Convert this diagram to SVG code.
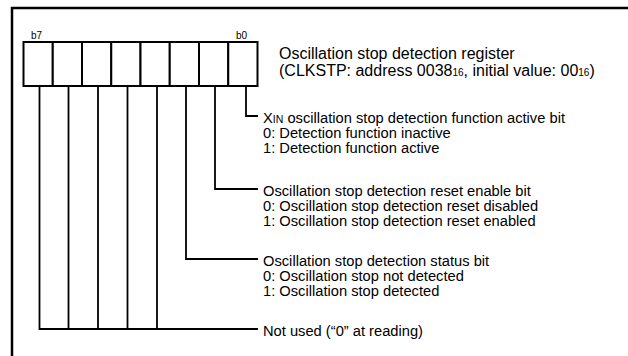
<svg xmlns="http://www.w3.org/2000/svg" width="628" height="356" viewBox="0 0 628 356">
<style>
.t{font-family:"Liberation Sans",Arial,sans-serif;font-size:14.7px;fill:#000}
.h{font-family:"Liberation Sans",Arial,sans-serif;font-size:16px;fill:#000}
.b{font-family:"Liberation Sans",Arial,sans-serif;font-size:10px;fill:#000}
.c{fill:#fff;stroke:#000;stroke-width:2}
.w{fill:none;stroke:#000;stroke-width:1.8}
</style>
<rect x="12" y="8" width="640" height="380" fill="none" stroke="#000" stroke-width="2.5"/>
<g id="register">
<text class="b" x="31" y="39">b7</text>
<text class="b" x="236" y="39">b0</text>
<rect class="c" x="23.5" y="42" width="29.25" height="44"/>
<rect class="c" x="52.75" y="42" width="29.25" height="44"/>
<rect class="c" x="82" y="42" width="29.25" height="44"/>
<rect class="c" x="111.25" y="42" width="29.25" height="44"/>
<rect class="c" x="140.5" y="42" width="29.25" height="44"/>
<rect class="c" x="169.75" y="42" width="29.25" height="44"/>
<rect class="c" x="199" y="42" width="29.25" height="44"/>
<rect class="c" x="228.25" y="42" width="29.25" height="44"/>
</g>
<g id="title">
<text class="h" x="279" y="59">Oscillation stop detection register</text>
<text class="h" x="279" y="76">(CLKSTP: address 0038<tspan font-size="10">16</tspan>, initial value: 00<tspan font-size="10">16</tspan>)</text>
</g>
<g id="connectors">
<polyline class="w" points="246,86 246,116 258,116"/>
<polyline class="w" points="215,86 215,189 258,189"/>
<polyline class="w" points="186,86 186,259 258,259"/>
<line class="w" x1="157" y1="86" x2="157" y2="329"/>
<line class="w" x1="127.5" y1="86" x2="127.5" y2="329"/>
<line class="w" x1="98" y1="86" x2="98" y2="329"/>
<line class="w" x1="68.5" y1="86" x2="68.5" y2="329"/>
<polyline class="w" points="39.5,86 39.5,329 258,329"/>
</g>
<g id="bit0">
<text class="t" x="263" y="123">X<tspan font-size="10.5">IN</tspan> oscillation stop detection function active bit</text>
<text class="t" x="263" y="138">0: Detection function inactive</text>
<text class="t" x="263" y="153">1: Detection function active</text>
</g>
<g id="bit1">
<text class="t" x="263" y="196">Oscillation stop detection reset enable bit</text>
<text class="t" x="263" y="211">0: Oscillation stop detection reset disabled</text>
<text class="t" x="263" y="226">1: Oscillation stop detection reset enabled</text>
</g>
<g id="bit2">
<text class="t" x="263" y="266">Oscillation stop detection status bit</text>
<text class="t" x="263" y="281">0: Oscillation stop not detected</text>
<text class="t" x="263" y="296">1: Oscillation stop detected</text>
</g>
<g id="bit3to7">
<text class="t" x="263" y="336">Not used (“0” at reading)</text>
</g>
</svg>
